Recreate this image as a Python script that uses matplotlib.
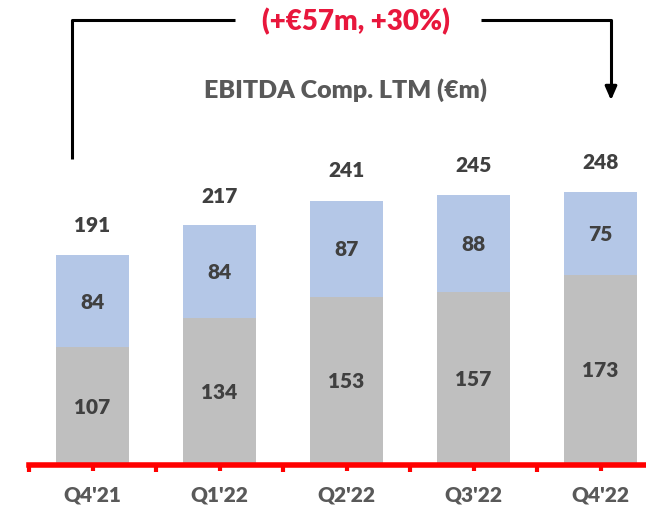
import matplotlib
matplotlib.use('Agg')

import numpy as np
import matplotlib.pyplot as plt

quarters = ["Q4'21", "Q1'22", "Q2'22", "Q3'22", "Q4'22"]
base = [107, 134, 153, 157, 173]
extra = [84, 84, 87, 88, 75]
totals = [191, 217, 241, 245, 248]

plt.rcParams['font.family'] = ['Lato', 'DejaVu Sans']
WEIGHT = 'heavy'

W, H = 646, 506
fig = plt.figure(figsize=(W / 100, H / 100), dpi=100)

# main axes: bottom at y=466px, x from 29px, 127px per category
px_per_unit = 1.1
left, bottom = 29, 466
cat_w = 127
ax = fig.add_axes([left / W, (H - bottom) / H, 5 * cat_w / W, bottom / H])
ax.set_xlim(-0.5, 4.5)
ax.set_ylim(0, bottom / px_per_unit)

x = np.arange(len(quarters))
ax.bar(x, base, width=0.57, color='#BFBFBF', zorder=2)
ax.bar(x, extra, bottom=base, width=0.57, color='#B4C7E7', zorder=2)

txt = dict(ha='center', va='center', fontsize=15, fontweight=WEIGHT, color='#404040')
for i in range(len(quarters)):
    ax.text(x[i], base[i] / 2, str(base[i]), **txt)
    ax.text(x[i], base[i] + extra[i] / 2, str(extra[i]), **txt)
    ax.text(x[i], totals[i] + 28, str(totals[i]), **txt)

for s in ['top', 'right', 'left']:
    ax.spines[s].set_visible(False)
ax.spines['bottom'].set_color('#FF0000')
ax.spines['bottom'].set_linewidth(4)
ax.spines['bottom'].set_zorder(3)
ax.set_yticks([])
ax.set_xticks(np.arange(-0.5, 5, 1))
ax.set_xticklabels([])
ax.set_xticks(x, minor=True)
ax.set_xticklabels(quarters, minor=True)
ax.tick_params(axis='x', which='both', colors='#FF0000', width=3, direction='out')
ax.tick_params(axis='x', which='major', length=5)
ax.tick_params(axis='x', which='minor', length=4, pad=10, labelsize=15,
               labelcolor='#595959')
for lab in ax.get_xticklabels(minor=True):
    lab.set_fontweight(WEIGHT)

# overlay in pixel coordinates for the bracket and titles
ov = fig.add_axes([0, 0, 1, 1])
ov.set_xlim(0, W)
ov.set_ylim(H, 0)
ov.axis('off')
ov.patch.set_alpha(0)

ov.plot([72, 72, 235], [160, 21, 21], color='black', lw=2.2, solid_capstyle='butt')
ov.plot([481, 611, 611], [21, 21, 92], color='black', lw=2.2, solid_capstyle='butt')
ov.annotate('', xy=(611, 104), xytext=(611, 88),
            arrowprops=dict(arrowstyle='-|>,head_width=0.35,head_length=0.8',
                            color='black', lw=2.2))
ov.text(356, 22, "(+€57m, +30%)", ha='center', va='center', fontsize=20,
        fontweight=WEIGHT, color='#E8173C')
ov.text(346, 90, "EBITDA Comp. LTM (€m)", ha='center', va='center', fontsize=18,
        fontweight=WEIGHT, color='#595959')

plt.savefig('out.png', dpi=100)
